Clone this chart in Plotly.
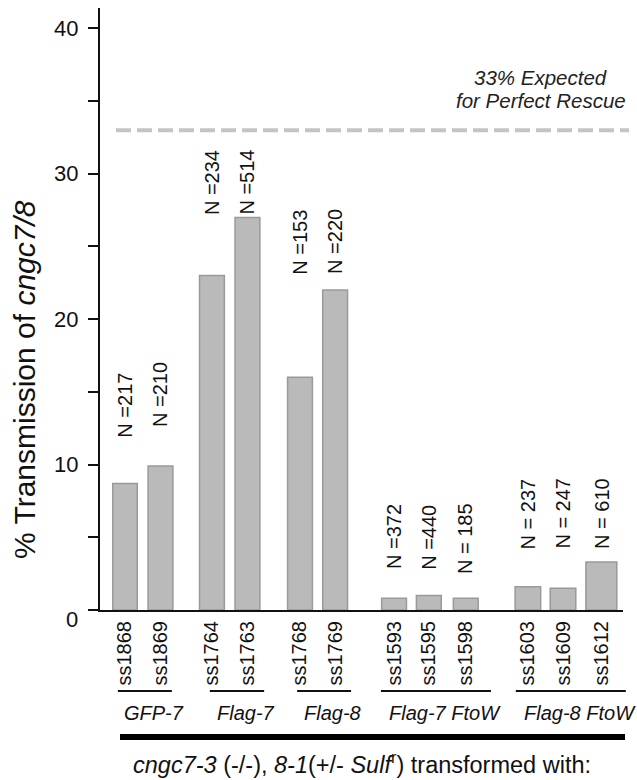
import plotly.graph_objects as go

# ---------------- data ----------------
lines = ["ss1868", "ss1869", "ss1764", "ss1763", "ss1768", "ss1769",
         "ss1593", "ss1595", "ss1598", "ss1603", "ss1609", "ss1612"]
groups = ["GFP-7", "Flag-7", "Flag-8", "Flag-7 FtoW", "Flag-8 FtoW"]
group_of_line = [0, 0, 1, 1, 2, 2, 3, 3, 3, 4, 4, 4]
transmission = [8.7, 9.9, 23.0, 27.0, 16.0, 22.0, 0.8, 1.0, 0.8, 1.6, 1.5, 3.3]
n_labels = ["N =217", "N =210", "N =234", "N =514", "N =153", "N =220",
            "N =372", "N =440", "N = 185", "N = 237", "N = 247", "N = 610"]
expected_rescue = 33
y_tick_vals = [0, 5, 10, 15, 20, 25, 30, 35, 40]
y_tick_text = ["", "", "10", "", "20", "", "30", "", "40"]

# ---------------- layout ----------------
bar_x = [0, 1, 2.45, 3.45, 4.93, 5.92, 7.58, 8.56, 9.6, 11.35, 12.34, 13.42]
bar_w = [0.69, 0.70, 0.70, 0.70, 0.70, 0.70, 0.70, 0.70, 0.70, 0.72, 0.72, 0.87]
label_y = [11.75, 12.45, 27.05, 27.05, 22.95, 22.95, 2.65, 2.65, 2.35, 4.05, 4.05, 4.05]
group_span = [(-0.20, 1.32), (2.39, 3.92), (4.85, 6.37), (7.21, 10.31), (11.01, 14.11)]
group_text_shift = 0.25
X_RANGE = [-0.704, 14.03]
Y_RANGE = [0, 41.4]
W, H = 637, 780
ML, MR, MT, MB = 100, 14, 8, 170
FONT = "Arial, Liberation Sans, sans-serif"

def ux(u):
    return (u - X_RANGE[0]) / (X_RANGE[1] - X_RANGE[0])

def pxx(px):
    return (px - ML) / (W - ML - MR)

def pxy(py):
    return (H - MB - py) / (H - MB - MT)

fig = go.Figure()
fig.add_trace(go.Bar(
    x=bar_x, y=transmission, width=bar_w,
    marker=dict(color="#bababa", line=dict(color="#9a9a9a", width=1.5)),
    hoverinfo="skip",
))

ann = []
# y-axis title
ann.append(dict(xref="paper", yref="paper", x=pxx(24), y=pxy(380),
                text="% Transmission of <i>cngc7/8</i>", textangle=-90,
                showarrow=False, xanchor="center", yanchor="middle",
                font=dict(size=30, color="#111", family=FONT)))
# zero label
ann.append(dict(xref="paper", yref="paper", x=pxx(80), y=pxy(619),
                text="0", showarrow=False, xanchor="right", yanchor="middle",
                font=dict(size=22, color="#111", family=FONT)))
# expected rescue (two lines)
ann.append(dict(xref="paper", yref="paper", x=pxx(540), y=pxy(78),
                text="<i>33% Expected</i>", showarrow=False,
                xanchor="center", yanchor="middle",
                font=dict(size=20.5, color="#222", family=FONT)))
ann.append(dict(xref="paper", yref="paper", x=pxx(541), y=pxy(101),
                text="<i>for Perfect Rescue</i>", showarrow=False,
                xanchor="center", yanchor="middle",
                font=dict(size=20.5, color="#222", family=FONT)))
# N labels
for xv, yv, t in zip(bar_x, label_y, n_labels):
    ann.append(dict(xref="x", yref="y", x=xv, y=yv, text=t, textangle=-90,
                    showarrow=False, xanchor="center", yanchor="bottom",
                    font=dict(size=20, color="#111", family=FONT)))

shapes = []
# expected line
shapes.append(dict(type="line", xref="paper", yref="paper",
                   x0=pxx(116), x1=pxx(629),
                   y0=expected_rescue / Y_RANGE[1], y1=expected_rescue / Y_RANGE[1],
                   line=dict(color="#c4c4c4", width=4, dash="15px,6px")))
# group underlines and names
for gname, (a, b) in zip(groups, group_span):
    shapes.append(dict(type="line", xref="paper", yref="paper",
                       x0=ux(a), x1=ux(b), y0=pxy(691), y1=pxy(691),
                       line=dict(color="#111", width=2)))
    ann.append(dict(xref="paper", yref="paper", x=ux((a + b) / 2 + group_text_shift),
                    y=pxy(713), text="<i>%s</i>" % gname, showarrow=False,
                    xanchor="center", yanchor="middle",
                    font=dict(size=20, color="#111", family=FONT)))
# big bracket line
shapes.append(dict(type="line", xref="paper", yref="paper",
                   x0=pxx(120), x1=pxx(625), y0=pxy(737), y1=pxy(737),
                   line=dict(color="#000", width=6)))
ann.append(dict(xref="paper", yref="paper", x=pxx(362), y=pxy(763),
                text="<i>cngc7-3</i> (-/-), <i>8-1</i>(+/- <i>Sulf</i><sup>r</sup>) transformed with:",
                showarrow=False, xanchor="center", yanchor="middle",
                font=dict(size=23.5, color="#111", family=FONT)))

fig.update_layout(
    width=W, height=H,
    margin=dict(l=ML, r=MR, t=MT, b=MB, pad=0),
    paper_bgcolor="white", plot_bgcolor="white",
    showlegend=False,
    font=dict(family=FONT, color="#111"),
    annotations=ann, shapes=shapes,
    xaxis=dict(range=X_RANGE, tickvals=bar_x, ticktext=lines, tickangle=-90,
               showline=True, linecolor="#111", linewidth=2, ticks="",
               showgrid=False, zeroline=False, ticklabelstandoff=1,
               tickfont=dict(size=20, color="#111", family=FONT)),
    yaxis=dict(range=Y_RANGE, tickvals=y_tick_vals, ticktext=y_tick_text,
               showline=True, linecolor="#111", linewidth=2, ticks="outside",
               ticklen=10, tickwidth=2, tickcolor="#111",
               showgrid=False, zeroline=False, ticklabelstandoff=5,
               tickfont=dict(size=22, color="#111", family=FONT)),
)

fig.write_html("out.html", config={"displayModeBar": False},
               post_script="document.body.style.margin='0';document.body.style.overflow='hidden';")
